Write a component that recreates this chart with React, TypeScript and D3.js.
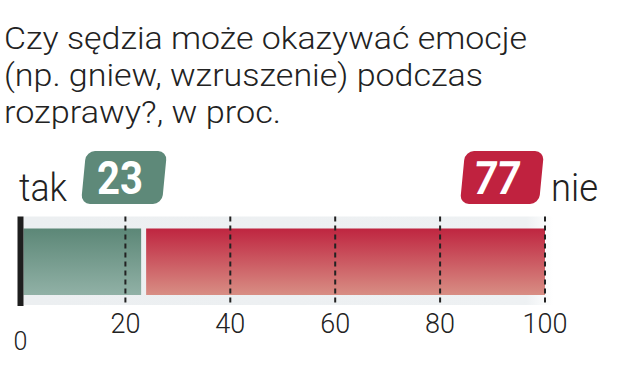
import React from "react";
import * as d3 from "d3";

const titleLines = [
  "Czy sędzia może okazywać emocje",
  "(np. gniew, wzruszenie) podczas",
  "rozprawy?, w proc.",
];
const categories = ["tak", "nie"];
const values = [23, 77];
const tickValues = [0, 20, 40, 60, 80, 100];
const gridValues = [20, 40, 60, 80, 100];

const W = 623;
const H = 383;

export default function App() {
  const x = d3.scaleLinear().domain([0, 100]).range([20.5, 545]);
  const barTop = 228.5;
  const barBot = 295;
  const bandTop = 216.5;
  const bandBot = 305;
  const gap = 5;

  const titleLengths = [523, 479, 277];
  const titleBase = [48.5, 86, 123];

  const greenEnd = x(values[0]);
  const redStart = greenEnd + gap;
  const redEnd = x(values[0] + values[1]);

  const font = "Roboto, 'Open Sans', sans-serif";

  return (
    <svg width={W} height={H} style={{ position: "absolute", left: 0, top: 0, background: "#fff" }}>
      <defs>
        <linearGradient id="gGreen" x1="0" y1="0" x2="0" y2="1">
          <stop offset="0" stopColor="#5c8777" />
          <stop offset="1" stopColor="#91b1a6" />
        </linearGradient>
        <linearGradient id="gRed" x1="0" y1="0" x2="0" y2="1">
          <stop offset="0" stopColor="#bf2540" />
          <stop offset="1" stopColor="#d88e84" />
        </linearGradient>
        <linearGradient id="gBand" x1="0" y1="0" x2="1" y2="0">
          <stop offset="0" stopColor="#eceff1" />
          <stop offset="0.95" stopColor="#eef1f3" />
          <stop offset="1" stopColor="#ffffff" />
        </linearGradient>
      </defs>

      {titleLines.map((t, i) => (
        <text
          key={i}
          x={4}
          y={titleBase[i]}
          fontFamily={font}
          fontWeight={300}
          fontSize={31.5}
          fill="#222"
          textLength={titleLengths[i]}
          lengthAdjust="spacingAndGlyphs"
        >
          {t}
        </text>
      ))}

      {/* band */}
      <rect x={x(0) + 3} y={bandTop} width={x(100) - x(0) + 5} height={bandBot - bandTop} fill="url(#gBand)" />

      {/* bars */}
      <rect x={x(0) + 3} y={barTop} width={greenEnd - x(0) - 3} height={barBot - barTop} fill="url(#gGreen)" />
      <rect x={redStart} y={barTop} width={redEnd - redStart} height={barBot - barTop} fill="url(#gRed)" />

      {/* grid */}
      {gridValues.map((v) => (
        <line
          key={v}
          x1={x(v)}
          x2={x(v)}
          y1={bandTop}
          y2={bandBot + 1}
          stroke="#222"
          strokeWidth={2}
          strokeDasharray="5,4"
        />
      ))}

      {/* axis baseline */}
      <rect x={x(0) - 3} y={bandTop} width={6} height={bandBot - bandTop + 1} fill="#1e1e1e" />

      {/* tick labels */}
      {tickValues.map((v) => (
        <text
          key={v}
          x={x(v)}
          y={v === 0 ? 350 : 332.5}
          textAnchor="middle"
          fontFamily={font}
          fontWeight={300}
          fontSize={v === 0 ? 25 : 27}
          fill="#222"
        >
          {v}
        </text>
      ))}

      {/* category labels */}
      <text x={19} y={200.5} fontFamily={font} fontWeight={300} fontSize={38} fill="#222" textLength={48} lengthAdjust="spacingAndGlyphs">
        {categories[0]}
      </text>
      <text x={551} y={200.5} fontFamily={font} fontWeight={300} fontSize={38} fill="#222" textLength={47} lengthAdjust="spacingAndGlyphs">
        {categories[1]}
      </text>

      {/* badges */}
      <g transform="translate(124,177.5) skewX(-5.5)">
        <rect x={-40.5} y={-26.5} width={81} height={53} rx={9} fill="#5e8979" />
      </g>
      <text x={120} y={194.3} textAnchor="middle" fontFamily={font} fontWeight={700} fontSize={46} fill="#fff" textLength={46} lengthAdjust="spacingAndGlyphs">
        {values[0]}
      </text>
      <g transform="translate(502,177.5) skewX(-5.5)">
        <rect x={-39.5} y={-26.5} width={79} height={53} rx={9} fill="#c0223f" />
      </g>
      <g transform="translate(495.5,194.3) skewX(-6)">
        <text x={0} y={0} textAnchor="middle" fontFamily={font} fontWeight={700} fontSize={46} fill="#fff" textLength={46} lengthAdjust="spacingAndGlyphs">
          {values[1]}
        </text>
      </g>
    </svg>
  );
}
